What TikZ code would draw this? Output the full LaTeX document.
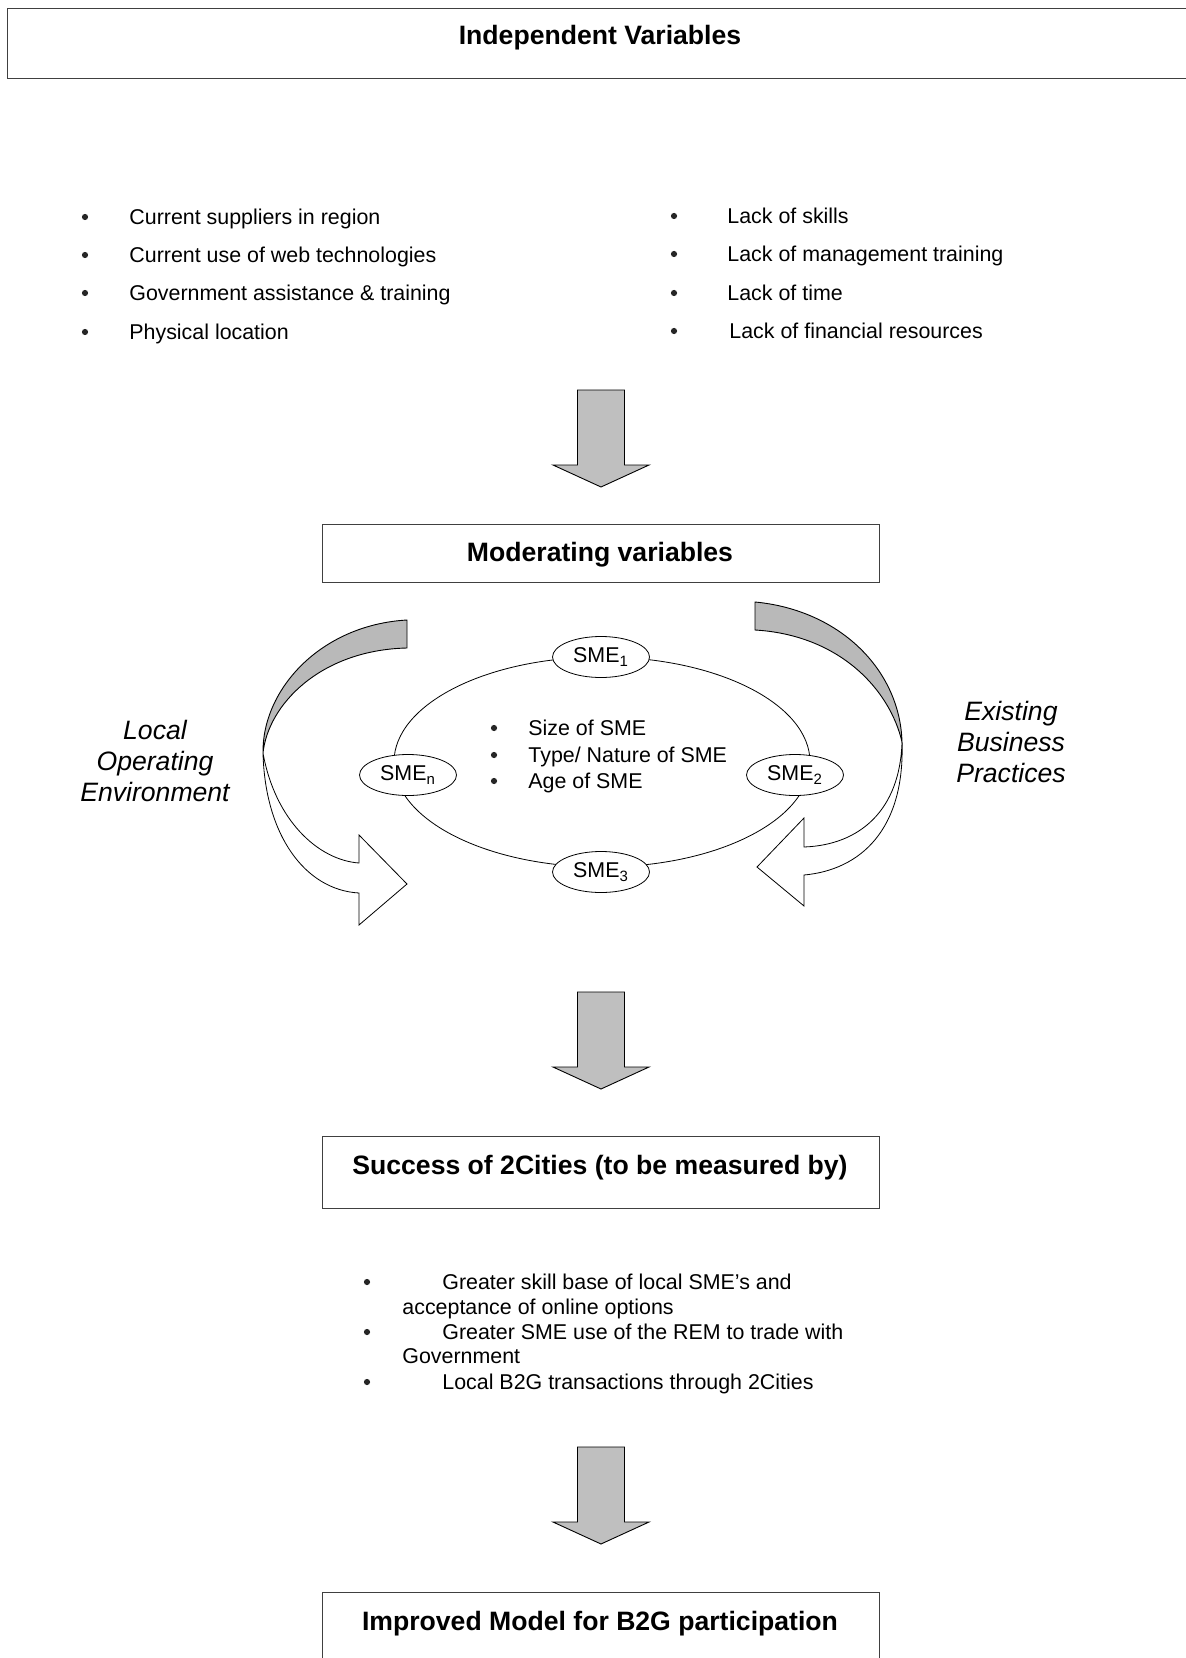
\documentclass[tikz,border=0pt]{standalone}
\usepackage{fontspec}
\setmainfont{Liberation Sans}
\usetikzlibrary{shapes.geometric}
\tikzset{
  body/.style={font=\fontsize{10.7}{13}\selectfont, inner sep=0pt, anchor=base west},
  ttl/.style={font=\fontsize{13.3}{16}\selectfont\bfseries, inner sep=0pt, anchor=base},
  side/.style={font=\fontsize{13.3}{15.5}\selectfont\itshape, inner sep=0pt, align=center, anchor=center},
  dot/.style={circle, fill=black!85, inner sep=0pt, minimum size=3.1pt},
  boxline/.style={draw=black!75, line width=0.5pt},
  boxst/.style={boxline, rectangle, inner sep=0pt, minimum width=278.5pt},
  ring/.style={draw, line width=0.4pt, ellipse, inner sep=0pt, minimum width=208pt, minimum height=105pt},
  sme/.style={draw, line width=0.4pt, ellipse, fill=white, inner sep=0pt, minimum width=48.5pt, minimum height=20.5pt, font=\fontsize{10.7}{13}\selectfont},
  blockarrow/.style={draw, line width=0.45pt, fill=gray!50},
  band/.style={draw, line width=0.45pt, fill=gray!55},
  hollow/.style={draw, line width=0.4pt, fill=white},
  downarrow/.pic={\draw[blockarrow] (-23.5,0) -- (23.5,0) -- (23.5,75) -- (48,75) -- (0,97) -- (-48,75) -- (-23.5,75) -- cycle;}
}
\begin{document}
\begin{tikzpicture}[x=0.5pt,y=-0.5pt]
\useasboundingbox (0,0) rectangle (1185,1658);
\fill[white] (0,0) rectangle (1185,1658);

% top box
\draw[boxline] (1195,8.5) -- (7,8.5) -- (7,79) -- (1195,79);
\node[ttl] (indep) at (600,44.5) {Independent Variables};

% left bullets
\node[dot] (l1) at (85,217) {};
\node[dot] (l2) at (85,255) {};
\node[dot] (l3) at (85,293) {};
\node[dot] (l4) at (85,332) {};
\node[body] (lt1) at (129,224.5) {Current suppliers in region};
\node[body] (lt2) at (129,262.5) {Current use of web technologies};
\node[body] (lt3) at (129,300.5) {Government assistance \& training};
\node[body] (lt4) at (129,339.5) {Physical location};

% right bullets
\node[dot] (r1) at (674,216) {};
\node[dot] (r2) at (674,254) {};
\node[dot] (r3) at (674,293) {};
\node[dot] (r4) at (674,331) {};
\node[body] (rt1) at (727,223.5) {Lack of skills};
\node[body] (rt2) at (727,261.5) {Lack of management training};
\node[body] (rt3) at (727,300.5) {Lack of time};
\node[body] (rt4) at (729,338.5) {Lack of financial resources};

% arrow 1
\pic at (601,390) {downarrow};

% moderating box
\node[boxst, minimum height=29pt] (modbox) at (600.5,553) {};
\node[ttl] (modtxt) at (600,561.5) {Moderating variables};

% curved arrows left
\draw[band] (407,620) .. controls (320,625) and (262,690) .. (263,753)
  .. controls (268,705) and (320,650) .. (407,648) -- cycle;
\draw[hollow] (263,753) .. controls (275,820) and (318,860) .. (359,863)
  -- (359,835) -- (407,884) -- (359,925) -- (359,893)
  .. controls (305,890) and (265,835) .. (263,753) -- cycle;

% curved arrows right
\draw[band] (755,602) .. controls (840,610) and (900,670) .. (902,742)
  .. controls (890,690) and (840,635) .. (755,630) -- cycle;
\draw[hollow] (902,742) .. controls (900,810) and (860,845) .. (804,847)
  -- (804,818) -- (757,867) -- (804,906) -- (804,875)
  .. controls (860,870) and (905,830) .. (902,742) -- cycle;

% ring and SMEs
\node[ring] (ring) at (602,762) {};
\node[sme] (sme1) at (601,657) {SME\textsubscript{1}};
\node[sme] (sme2) at (795,775) {SME\textsubscript{2}};
\node[sme] (sme3) at (601,872) {SME\textsubscript{3}};
\node[sme] (smen) at (408,775) {SME\textsubscript{n}};

\node[dot] (m1) at (494,728) {};
\node[dot] (m2) at (494,755) {};
\node[dot] (m3) at (494,781) {};
\node[body] (mt1) at (528,735.5) {Size of SME};
\node[body] (mt2) at (528,762.5) {Type/ Nature of SME};
\node[body] (mt3) at (528,788.5) {Age of SME};

\node[side] (loe) at (155,761) {Local\\Operating\\Environment};
\node[side] (ebp) at (1011,742) {Existing\\Business\\Practices};

% arrow 2
\pic at (601,992) {downarrow};

% success box
\node[boxst, minimum height=36pt] (succbox) at (600.5,1172) {};
\node[ttl] (succtxt) at (600,1174.5) {Success of 2Cities (to be measured by)};

\node[dot] (s1) at (367,1282) {};
\node[dot] (s2) at (367,1332) {};
\node[dot] (s3) at (367,1382) {};
\node[body] (st1) at (442,1289.5) {Greater skill base of local SME’s and};
\node[body] (st1b) at (402,1314.5) {acceptance of online options};
\node[body] (st2) at (442,1339.5) {Greater SME use of the REM to trade with};
\node[body] (st2b) at (402,1363.5) {Government};
\node[body] (st3) at (442,1389.5) {Local B2G transactions through 2Cities};

% arrow 3
\pic at (601,1447) {downarrow};

% improved box
\draw[boxline] (322,1670) -- (322,1592) -- (879,1592) -- (879,1670);
\node[ttl] (imptxt) at (600,1630.5) {Improved Model for B2G participation};
\end{tikzpicture}
\end{document}
